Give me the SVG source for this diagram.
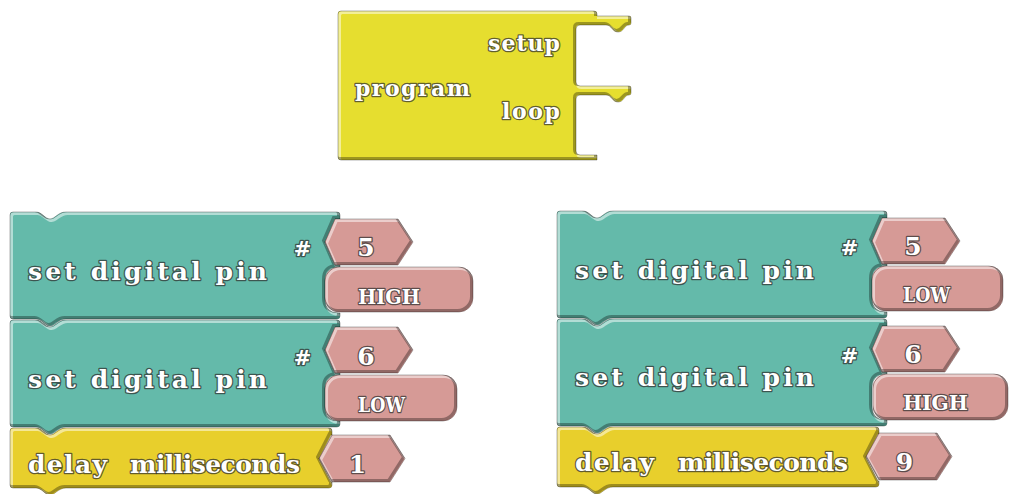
<svg xmlns="http://www.w3.org/2000/svg" xmlns:xlink="http://www.w3.org/1999/xlink" width="1012" height="494" viewBox="0 0 1012 494">
  <style>
    .prog { fill: #e6de2f; }
    .teal { fill: #64baaa; }
    .gold { fill: #e8cf2c; }
    .pink { fill: #d69a96; }
    .hl { fill: none; stroke: #ffffff; stroke-opacity: 0.5; stroke-width: 3; }
    .sh { fill: none; stroke: #000000; stroke-opacity: 0.32; stroke-width: 3; }
    .ol { fill: none; stroke: #000000; stroke-opacity: 0.3; stroke-width: 1; }
    .t { font-family: "DejaVu Serif", "Liberation Serif", serif; font-weight: bold; fill: #ffffff;
         stroke: #2e2e2e; stroke-opacity: 0.72; stroke-width: 2.6; stroke-linejoin: round; paint-order: stroke; }
    .big { font-size: 25px; }
    .num { font-size: 25px; }
    .mid { font-size: 21px; }
    .val { font-size: 21px; }
    .small { font-size: 22px; }
    .c { text-anchor: middle; }
  </style>
  <defs>
    <!-- program block with two statement sockets -->
    <path id="progShape" d="M338,14 Q338,11 341,11 L594,11 Q597,11 597,14 L597,16 L629,16 Q631,16 631,18 L631,23 Q631,25 629,25 C624,25 624,32 618,32 C612,32 612,25 606,25 L580,25 Q576,25 576,29 L576,82 Q576,86 580,86 L629,86 Q631,86 631,88 L631,93 Q631,95 629,95 C624,95 624,102 618,102 C612,102 612,95 606,95 L580,95 Q576,95 576,99 L576,151 Q576,155 580,155 L597,155 L597,160 L341,160 Q338,160 338,157 Z"/>
    <!-- statement block with a number socket and a rounded value socket -->
    <path id="pinShape" d="M0,3 Q0,0 3,0 L26,0 C32,0 35,7 40,7 C45,7 48,0 56,0 L327,0 Q330,0 330,3 L330,7 L325,7 L315,30 L325,53 L330,53 L330,55 L329,55 Q315,55 315,69 L315,87 Q315,101 329,101 L330,101 L330,104 Q330,107 327,107 L56,107 C48,107 45,114 40,114 C35,114 32,107 26,107 L3,107 Q0,107 0,104 Z"/>
    <!-- delay statement with one number socket -->
    <path id="delayShape" d="M0,3 Q0,0 3,0 L26,0 C32,0 35,7 40,7 C45,7 48,0 56,0 L319,0 Q322,0 322,3 L322,7 L321,7 L309,30.5 L321,54 L322,54 L322,57 Q322,60 319,60 L56,60 C48,60 45,67 40,67 C35,67 32,60 26,60 L3,60 Q0,60 0,57 Z"/>
    <path id="hexPin" d="M10,0 L73,0 L88,23 L73,46 L10,46 L0,23 Z"/>
    <path id="hexDelay" d="M13,0 L71,0 L86,23.5 L71,47 L13,47 L0,23.5 Z"/>
    <rect id="pill148" x="0" y="0" width="148" height="45" rx="14"/>
    <rect id="pill132" x="0" y="0" width="132" height="46" rx="14"/>
    <rect id="pill131" x="0" y="0" width="131" height="45" rx="14"/>
    <rect id="pill135" x="0" y="0" width="135" height="46" rx="14"/>

    <clipPath id="cProg"><use xlink:href="#progShape"/></clipPath>
    <clipPath id="cPin"><use xlink:href="#pinShape"/></clipPath>
    <clipPath id="cDelay"><use xlink:href="#delayShape"/></clipPath>
    <clipPath id="cHexPin"><use xlink:href="#hexPin"/></clipPath>
    <clipPath id="cHexDelay"><use xlink:href="#hexDelay"/></clipPath>
    <clipPath id="cP148"><use xlink:href="#pill148"/></clipPath>
    <clipPath id="cP132"><use xlink:href="#pill132"/></clipPath>
    <clipPath id="cP131"><use xlink:href="#pill131"/></clipPath>
    <clipPath id="cP135"><use xlink:href="#pill135"/></clipPath>
  </defs>

  <rect width="1012" height="494" fill="#ffffff"/>

  <!-- program: setup / loop -->
  <g id="program">
    <use xlink:href="#progShape" class="prog"/>
    <g clip-path="url(#cProg)">
      <use xlink:href="#progShape" class="hl" transform="translate(1.5,1.5)"/>
      <use xlink:href="#progShape" class="sh" transform="translate(-1.5,-1.5)"/>
    </g>
    <use xlink:href="#progShape" class="ol"/>
    <text class="t small" x="488" y="51" textLength="72" lengthAdjust="spacing">setup</text>
    <text class="t small" x="355" y="96" textLength="115" lengthAdjust="spacing">program</text>
    <text class="t small" x="502" y="119" textLength="58" lengthAdjust="spacing">loop</text>
  </g>

  <!-- left stack -->
  <g id="set-pin-5-high" transform="translate(10,212)">
    <use xlink:href="#pinShape" class="teal"/>
    <g clip-path="url(#cPin)">
      <use xlink:href="#pinShape" class="hl" transform="translate(1.5,1.5)"/>
      <use xlink:href="#pinShape" class="sh" transform="translate(-1.5,-1.5)"/>
    </g>
    <use xlink:href="#pinShape" class="ol"/>
    <text class="t big" x="18" y="68" textLength="239" lengthAdjust="spacing">set digital pin</text>
    <text class="t mid c" x="292.5" y="44">#</text>
    <g id="num-5-a" transform="translate(315,7)">
      <use xlink:href="#hexPin" class="pink"/>
      <g clip-path="url(#cHexPin)">
        <use xlink:href="#hexPin" class="hl" transform="translate(1.5,1.5)"/>
        <use xlink:href="#hexPin" class="sh" transform="translate(-1.5,-1.5)"/>
      </g>
      <use xlink:href="#hexPin" class="ol"/>
      <text class="t num c" x="41" y="37">5</text>
    </g>
    <g id="value-high-a" transform="translate(315,55)">
      <use xlink:href="#pill148" class="pink"/>
      <g clip-path="url(#cP148)">
        <use xlink:href="#pill148" class="hl" transform="translate(1.5,1.5)"/>
        <use xlink:href="#pill148" class="sh" transform="translate(-1.5,-1.5)"/>
      </g>
      <use xlink:href="#pill148" class="ol"/>
      <text class="t val" x="33" y="37" textLength="62" lengthAdjust="spacingAndGlyphs">HIGH</text>
    </g>
  </g>

  <g id="set-pin-6-low" transform="translate(10,320)">
    <use xlink:href="#pinShape" class="teal"/>
    <g clip-path="url(#cPin)">
      <use xlink:href="#pinShape" class="hl" transform="translate(1.5,1.5)"/>
      <use xlink:href="#pinShape" class="sh" transform="translate(-1.5,-1.5)"/>
    </g>
    <use xlink:href="#pinShape" class="ol"/>
    <text class="t big" x="18" y="68" textLength="239" lengthAdjust="spacing">set digital pin</text>
    <text class="t mid c" x="292.5" y="45">#</text>
    <g id="num-6-a" transform="translate(315,7)">
      <use xlink:href="#hexPin" class="pink"/>
      <g clip-path="url(#cHexPin)">
        <use xlink:href="#hexPin" class="hl" transform="translate(1.5,1.5)"/>
        <use xlink:href="#hexPin" class="sh" transform="translate(-1.5,-1.5)"/>
      </g>
      <use xlink:href="#hexPin" class="ol"/>
      <text class="t num c" x="41" y="38">6</text>
    </g>
    <g id="value-low-a" transform="translate(315,55)">
      <use xlink:href="#pill132" class="pink"/>
      <g clip-path="url(#cP132)">
        <use xlink:href="#pill132" class="hl" transform="translate(1.5,1.5)"/>
        <use xlink:href="#pill132" class="sh" transform="translate(-1.5,-1.5)"/>
      </g>
      <use xlink:href="#pill132" class="ol"/>
      <text class="t val" x="33" y="37" textLength="47" lengthAdjust="spacingAndGlyphs">LOW</text>
    </g>
  </g>

  <g id="delay-1" transform="translate(10,428)">
    <use xlink:href="#delayShape" class="gold"/>
    <g clip-path="url(#cDelay)">
      <use xlink:href="#delayShape" class="hl" transform="translate(1.5,1.5)"/>
      <use xlink:href="#delayShape" class="sh" transform="translate(-1.5,-1.5)"/>
    </g>
    <use xlink:href="#delayShape" class="ol"/>
    <text class="t big" y="45"><tspan x="18" textLength="79" lengthAdjust="spacing">delay</tspan><tspan x="120" textLength="170" lengthAdjust="spacing">milliseconds</tspan></text>
    <g id="num-1" transform="translate(309,7)">
      <use xlink:href="#hexDelay" class="pink"/>
      <g clip-path="url(#cHexDelay)">
        <use xlink:href="#hexDelay" class="hl" transform="translate(1.5,1.5)"/>
        <use xlink:href="#hexDelay" class="sh" transform="translate(-1.5,-1.5)"/>
      </g>
      <use xlink:href="#hexDelay" class="ol"/>
      <text class="t num c" x="38.5" y="38">1</text>
    </g>
  </g>

  <!-- right stack -->
  <g id="set-pin-5-low" transform="translate(557,211)">
    <use xlink:href="#pinShape" class="teal"/>
    <g clip-path="url(#cPin)">
      <use xlink:href="#pinShape" class="hl" transform="translate(1.5,1.5)"/>
      <use xlink:href="#pinShape" class="sh" transform="translate(-1.5,-1.5)"/>
    </g>
    <use xlink:href="#pinShape" class="ol"/>
    <text class="t big" x="18" y="68" textLength="239" lengthAdjust="spacing">set digital pin</text>
    <text class="t mid c" x="292.5" y="44">#</text>
    <g id="num-5-b" transform="translate(315,7)">
      <use xlink:href="#hexPin" class="pink"/>
      <g clip-path="url(#cHexPin)">
        <use xlink:href="#hexPin" class="hl" transform="translate(1.5,1.5)"/>
        <use xlink:href="#hexPin" class="sh" transform="translate(-1.5,-1.5)"/>
      </g>
      <use xlink:href="#hexPin" class="ol"/>
      <text class="t num c" x="41" y="37">5</text>
    </g>
    <g id="value-low-b" transform="translate(315,55)">
      <use xlink:href="#pill131" class="pink"/>
      <g clip-path="url(#cP131)">
        <use xlink:href="#pill131" class="hl" transform="translate(1.5,1.5)"/>
        <use xlink:href="#pill131" class="sh" transform="translate(-1.5,-1.5)"/>
      </g>
      <use xlink:href="#pill131" class="ol"/>
      <text class="t val" x="31" y="36" textLength="47" lengthAdjust="spacingAndGlyphs">LOW</text>
    </g>
  </g>

  <g id="set-pin-6-high" transform="translate(557,319)">
    <use xlink:href="#pinShape" class="teal"/>
    <g clip-path="url(#cPin)">
      <use xlink:href="#pinShape" class="hl" transform="translate(1.5,1.5)"/>
      <use xlink:href="#pinShape" class="sh" transform="translate(-1.5,-1.5)"/>
    </g>
    <use xlink:href="#pinShape" class="ol"/>
    <text class="t big" x="18" y="67" textLength="239" lengthAdjust="spacing">set digital pin</text>
    <text class="t mid c" x="292.5" y="44">#</text>
    <g id="num-6-b" transform="translate(315,7)">
      <use xlink:href="#hexPin" class="pink"/>
      <g clip-path="url(#cHexPin)">
        <use xlink:href="#hexPin" class="hl" transform="translate(1.5,1.5)"/>
        <use xlink:href="#hexPin" class="sh" transform="translate(-1.5,-1.5)"/>
      </g>
      <use xlink:href="#hexPin" class="ol"/>
      <text class="t num c" x="41" y="37">6</text>
    </g>
    <g id="value-high-b" transform="translate(316,55)">
      <use xlink:href="#pill135" class="pink"/>
      <g clip-path="url(#cP135)">
        <use xlink:href="#pill135" class="hl" transform="translate(1.5,1.5)"/>
        <use xlink:href="#pill135" class="sh" transform="translate(-1.5,-1.5)"/>
      </g>
      <use xlink:href="#pill135" class="ol"/>
      <text class="t val" x="30" y="36" textLength="65" lengthAdjust="spacingAndGlyphs">HIGH</text>
    </g>
  </g>

  <g id="delay-9" transform="translate(557,427)">
    <use xlink:href="#delayShape" class="gold"/>
    <g clip-path="url(#cDelay)">
      <use xlink:href="#delayShape" class="hl" transform="translate(1.5,1.5)"/>
      <use xlink:href="#delayShape" class="sh" transform="translate(-1.5,-1.5)"/>
    </g>
    <use xlink:href="#delayShape" class="ol"/>
    <text class="t big" y="44"><tspan x="18" textLength="79" lengthAdjust="spacing">delay</tspan><tspan x="121" textLength="170" lengthAdjust="spacing">milliseconds</tspan></text>
    <g id="num-9" transform="translate(309,6)">
      <use xlink:href="#hexDelay" class="pink"/>
      <g clip-path="url(#cHexDelay)">
        <use xlink:href="#hexDelay" class="hl" transform="translate(1.5,1.5)"/>
        <use xlink:href="#hexDelay" class="sh" transform="translate(-1.5,-1.5)"/>
      </g>
      <use xlink:href="#hexDelay" class="ol"/>
      <text class="t num c" x="38.5" y="38">9</text>
    </g>
  </g>

  <!-- the blocks snap together directly; no separate connector lines -->
  <g id="connectors"/>
</svg>
